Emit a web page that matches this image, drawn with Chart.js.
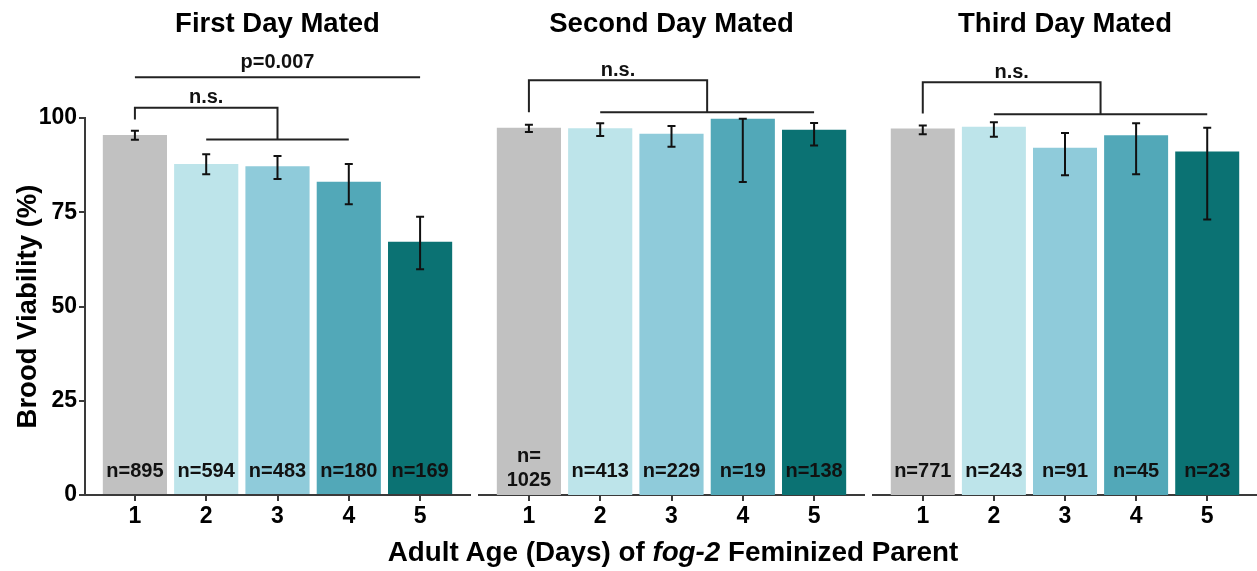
<!DOCTYPE html>
<html>
<head>
<meta charset="utf-8">
<script src="https://cdn.jsdelivr.net/npm/chart.js@4.4.1/dist/chart.umd.min.js"></script>
<style>
  html, body { margin: 0; padding: 0; background: #fff; }
  #wrap { position: relative; width: 1257px; height: 571px; overflow: hidden;
          font-family: "Liberation Sans", Arial, Helvetica, sans-serif; }
  canvas { position: absolute; top: 0; }
  #xtitle { position: absolute; left: 673px; top: 537px; transform: translateX(-50%);
            white-space: nowrap; font-weight: bold; font-size: 27.8px; line-height: 30px; color: #000; }
</style>
</head>
<body>
<div id="wrap">
  <canvas id="p1" width="476" height="571" style="left:0px"></canvas>
  <canvas id="p2" width="396" height="571" style="left:474px"></canvas>
  <canvas id="p3" width="389" height="571" style="left:868px"></canvas>
  <div id="xtitle">Adult Age (Days) of <i>fog-2</i> Feminized Parent</div>
</div>
<script>
// Adult age of the feminized parent (days)
const days = ['1', '2', '3', '4', '5'];
const panelTitles = ['First Day Mated', 'Second Day Mated', 'Third Day Mated'];
const yTicks = [0, 25, 50, 75, 100];

// Brood viability (%) with error-bar bounds and brood counts
const firstDayMean  = [95.5, 87.8, 87.2, 83.1, 67.2];
const firstDayLow   = [94.2, 85.1, 83.8, 77.1, 59.9];
const firstDayHigh  = [96.6, 90.4, 89.9, 87.8, 73.8];
const firstDayN     = [895, 594, 483, 180, 169];

const secondDayMean = [97.4, 97.3, 95.8, 99.8, 96.9];
const secondDayLow  = [96.3, 95.2, 92.4, 83.0, 92.7];
const secondDayHigh = [98.2, 98.6, 97.9, 99.8, 98.7];
const secondDayN    = [1025, 413, 229, 19, 138];

const thirdDayMean  = [97.2, 97.7, 92.1, 95.4, 91.1];
const thirdDayLow   = [95.7, 95.0, 84.8, 85.1, 73.1];
const thirdDayHigh  = [98.0, 98.9, 96.0, 98.6, 97.4];
const thirdDayN     = [771, 243, 91, 45, 23];

// Significance annotations: day 1 vs the later days
const compLabels   = ['n.s.', 'n.s.', 'n.s.'];
const compGroupEnd = [4, 5, 5];            // last day in the compared group
const compTop      = [102.7, 110.0, 109.5];
const compLeftEnd  = [99.6, 101.5, 101.2];
const compLower    = [94.3, 101.5, 101.0];
const compText     = [104.0, 111.1, 110.7];
const pLabel = 'p=0.007';                  // first day: day 1 vs day 5
const pFrom = 1, pTo = 5, pLevel = 110.8, pTextLevel = 113.3;

const barColors = ['#c1c1c1', '#bde4ea', '#8fcbda', '#52a8b8', '#0b7273'];
const FONT = '"Liberation Sans", Arial, Helvetica, sans-serif';
const AXIS = '#3a3a3a';
Chart.defaults.font.family = FONT;

const panelDecor = {
  id: 'panelDecor',
  afterDatasetsDraw(chart, args, o) {
    const { ctx, chartArea, scales: { x, y } } = chart;
    const bars = chart.getDatasetMeta(0).data;
    ctx.save();

    // error bars
    ctx.strokeStyle = '#111';
    ctx.lineWidth = 2;
    o.low.forEach((lo, i) => {
      const px = x.getPixelForValue(i + 1);
      const y1 = y.getPixelForValue(lo);
      const y2 = y.getPixelForValue(o.high[i]);
      ctx.beginPath();
      ctx.moveTo(px, y1); ctx.lineTo(px, y2);
      ctx.moveTo(px - 4, y1); ctx.lineTo(px + 4, y1);
      ctx.moveTo(px - 4, y2); ctx.lineTo(px + 4, y2);
      ctx.stroke();
    });

    // brood counts inside the bars
    ctx.fillStyle = '#111';
    ctx.font = 'bold 20px ' + FONT;
    ctx.textAlign = 'center';
    ctx.textBaseline = 'alphabetic';
    o.n.forEach((n, i) => {
      const px = x.getPixelForValue(i + 1);
      const txt = 'n=' + n;
      if (ctx.measureText(txt).width > bars[i].width - 2) {
        ctx.fillText('n=', px, 462);
        ctx.fillText(String(n), px, 486);
      } else {
        ctx.fillText(txt, px, 477);
      }
    });

    // comparison bracket
    ctx.strokeStyle = '#222';
    ctx.lineWidth = 2;
    const xa = x.getPixelForValue(1);
    const xl0 = x.getPixelForValue(2);
    const xl1 = x.getPixelForValue(o.groupEnd);
    const xm = (xl0 + xl1) / 2;
    const yTop = y.getPixelForValue(o.top);
    const yLow = y.getPixelForValue(o.lower);
    ctx.beginPath();
    ctx.moveTo(xa, y.getPixelForValue(o.leftEnd));
    ctx.lineTo(xa, yTop);
    ctx.lineTo(xm, yTop);
    ctx.lineTo(xm, yLow);
    ctx.moveTo(xl0, yLow);
    ctx.lineTo(xl1, yLow);
    ctx.stroke();
    ctx.fillText(o.label, (xa + xm) / 2, y.getPixelForValue(o.textLevel));

    if (o.pText) {
      const yp = y.getPixelForValue(o.pLevel);
      const x0 = x.getPixelForValue(o.pFrom), x1 = x.getPixelForValue(o.pTo);
      ctx.beginPath();
      ctx.moveTo(x0, yp); ctx.lineTo(x1, yp);
      ctx.stroke();
      ctx.fillText(o.pText, (x0 + x1) / 2, y.getPixelForValue(o.pTextLevel));
    }

    // panel heading
    ctx.fillStyle = '#000';
    ctx.font = 'bold 27.5px ' + FONT;
    ctx.fillText(o.title, (chartArea.left + chartArea.right) / 2, 32);
    ctx.restore();
  }
};

function makePanel(id, k, mean, low, high, n, showY, padL, padR) {
  const tickFont = { size: 23, weight: 'bold', family: FONT };
  const decor = {
    title: panelTitles[k], low, high, n,
    label: compLabels[k], groupEnd: compGroupEnd[k], top: compTop[k],
    leftEnd: compLeftEnd[k], lower: compLower[k], textLevel: compText[k]
  };
  if (k === 0) Object.assign(decor, { pText: pLabel, pFrom, pTo, pLevel, pTextLevel });

  return new Chart(document.getElementById(id), {
    type: 'bar',
    data: {
      datasets: [{
        data: mean.map((v, i) => ({ x: i + 1, y: v })),
        backgroundColor: barColors,
        borderWidth: 0,
        categoryPercentage: 1,
        barPercentage: 0.9
      }]
    },
    options: {
      responsive: false,
      animation: false,
      events: [],
      layout: { padding: { top: 118, bottom: 0, left: padL, right: padR } },
      plugins: {
        legend: { display: false },
        tooltip: { enabled: false },
        title: { display: false },
        panelDecor: decor
      },
      scales: {
        x: {
          type: 'linear', min: 0.3, max: 5.7, offset: false,
          afterBuildTicks: s => { s.ticks = days.map((d, i) => ({ value: i + 1 })); },
          afterFit: s => { s.height = 76; },
          ticks: { callback: v => days[v - 1], font: tickFont, color: '#000',
                   padding: 2, maxRotation: 0, autoSkip: false },
          grid: { display: true, offset: false, drawOnChartArea: false, tickLength: 6,
                  color: AXIS, lineWidth: 2 },
          border: { display: true, color: AXIS, width: 2 }
        },
        y: {
          min: 0, max: 100, display: showY,
          afterBuildTicks: s => { s.ticks = yTicks.map(v => ({ value: v })); },
          afterFit: s => { s.width = showY ? 85 : 0; },
          ticks: { font: tickFont, color: '#000', padding: 2 },
          grid: { display: true, drawOnChartArea: false, tickLength: 6, color: AXIS, lineWidth: 2 },
          border: { display: true, color: AXIS, width: 2 },
          title: { display: true, text: 'Brood Viability (%)', color: '#000',
                   font: { size: 27.5, weight: 'bold', family: FONT }, padding: { top: 12 } }
        }
      }
    },
    plugins: [panelDecor]
  });
}

makePanel('p1', 0, firstDayMean, firstDayLow, firstDayHigh, firstDayN, true, 0, 6);
makePanel('p2', 1, secondDayMean, secondDayLow, secondDayHigh, secondDayN, false, 5, 6);
makePanel('p3', 2, thirdDayMean, thirdDayLow, thirdDayHigh, thirdDayN, false, 5, 0);
</script>
</body>
</html>
